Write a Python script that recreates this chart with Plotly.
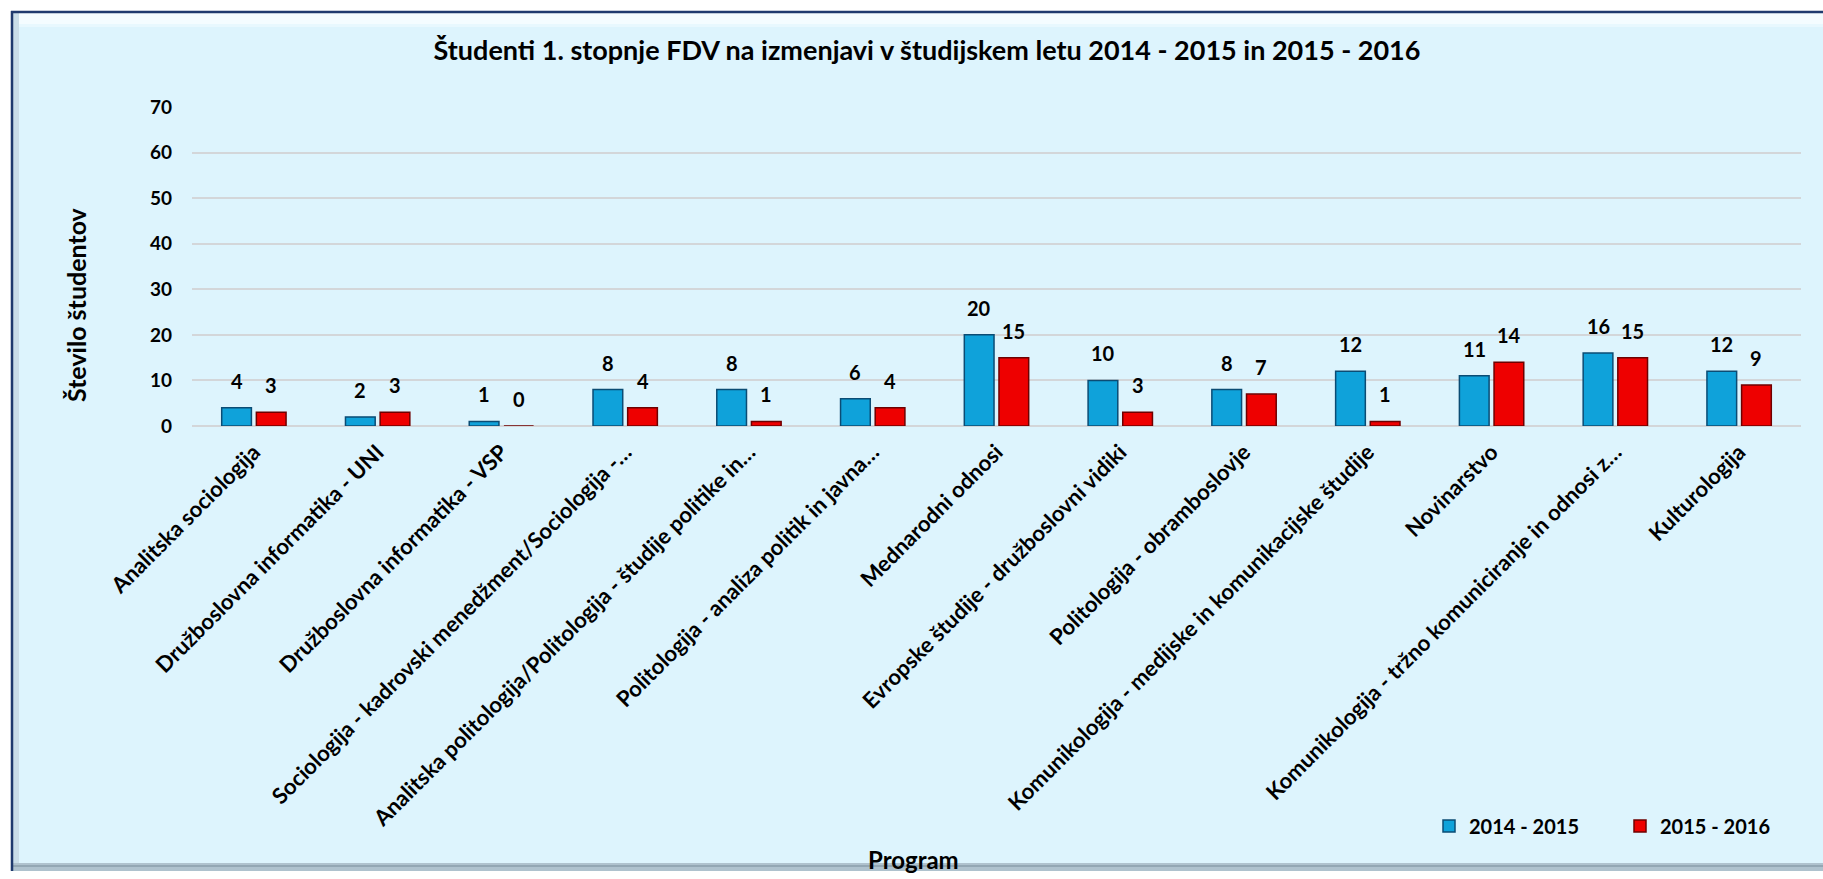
import plotly.graph_objects as go

categories = [
    "Analitska sociologija",
    "Družboslovna informatika - UNI",
    "Družboslovna informatika - VSP",
    "Sociologija - kadrovski menedžment/Sociologija -…",
    "Analitska politologija/Politologija - študije politike in…",
    "Politologija - analiza politik in javna…",
    "Mednarodni odnosi",
    "Evropske študije - družboslovni vidiki",
    "Politologija - obramboslovje",
    "Komunikologija - medijske in komunikacijske študije",
    "Novinarstvo",
    "Komunikologija - tržno komuniciranje in odnosi z…",
    "Kulturologija",
]
series_names = ["2014 - 2015", "2015 - 2016"]
values_2014_2015 = [4, 2, 1, 8, 8, 6, 20, 10, 8, 12, 11, 16, 12]
values_2015_2016 = [3, 3, 0, 4, 1, 4, 15, 3, 7, 1, 14, 15, 9]
y_ticks = [0, 10, 20, 30, 40, 50, 60, 70]

title_text = "Študenti 1. stopnje FDV na izmenjavi v študijskem letu 2014 - 2015 in 2015 - 2016"
y_title = "Število študentov"
x_title = "Program"

W, H = 1823, 879
L, R, T, B = 192, 1801, 107, 426
FONT = "Lato"

def px(x):
    return (x - L) / (R - L)

def py(y):
    return (B - y) / (B - T)

BAR_W = 0.24
offsets = [-0.26, 0.02]
fills = ["#0FA2DA", "#EE0000"]
lines = ["#0B4C74", "#6E0000"]

fig = go.Figure()
for name, vals, off, fc, lc in zip(series_names, [values_2014_2015, values_2015_2016], offsets, fills, lines):
    fig.add_trace(go.Bar(
        x=categories, y=vals, name=name,
        width=BAR_W, offset=off,
        marker=dict(color=fc, line=dict(color=lc, width=1.5)),
        hoverinfo="x+y+name",
    ))

annotations = []
for vals, off in zip([values_2014_2015, values_2015_2016], offsets):
    for i, v in enumerate(vals):
        annotations.append(dict(
            x=i + off + BAR_W / 2, y=v, xref="x", yref="y",
            text=str(v), showarrow=False, yanchor="bottom", xanchor="center",
            yshift=13,
            font=dict(family=FONT, size=20, color="#000000", weight="bold"),
        ))

annotations.append(dict(
    x=px(76), y=py(305), xref="paper", yref="paper", text=y_title,
    textangle=-90, showarrow=False, xanchor="center", yanchor="middle",
    font=dict(family=FONT, size=25, color="#000000", weight="bold"),
))
annotations.append(dict(
    x=px(913), y=py(860), xref="paper", yref="paper", text=x_title,
    showarrow=False, xanchor="center", yanchor="middle",
    font=dict(family=FONT, size=24, color="#000000", weight="bold"),
))

shapes = [
    # frame background
    dict(type="rect", xref="paper", yref="paper", x0=px(11), x1=px(1840), y0=py(871), y1=py(11),
         fillcolor="#DDF4FD", line=dict(width=0), layer="below"),
    # top highlight
    dict(type="rect", xref="paper", yref="paper", x0=px(13), x1=px(1840), y0=py(24), y1=py(13),
         fillcolor="#F4FCFF", line=dict(width=0), layer="below"),
    dict(type="rect", xref="paper", yref="paper", x0=px(13), x1=px(1840), y0=py(27), y1=py(24),
         fillcolor="#E8F8FE", line=dict(width=0), layer="below"),
    # left shade
    dict(type="rect", xref="paper", yref="paper", x0=px(13), x1=px(19), y0=py(871), y1=py(13),
         fillcolor="#C9DDE8", line=dict(width=0), layer="below"),
    # bottom shade
    dict(type="rect", xref="paper", yref="paper", x0=px(13), x1=px(1840), y0=py(871), y1=py(863),
         fillcolor="#AFC2CE", line=dict(width=0), layer="below"),
    dict(type="rect", xref="paper", yref="paper", x0=px(13), x1=px(1840), y0=py(867), y1=py(865),
         fillcolor="#93A7B4", line=dict(width=0), layer="below"),
    # navy border left and top
    dict(type="line", xref="paper", yref="paper", x0=px(12), x1=px(12), y0=py(871), y1=py(11),
         line=dict(color="#1F3A6E", width=2.5), layer="below"),
    dict(type="line", xref="paper", yref="paper", x0=px(11), x1=px(1840), y0=py(12), y1=py(12),
         line=dict(color="#1F3A6E", width=2.5), layer="below"),
]

fig.update_layout(
    width=W, height=H,
    margin=dict(l=L, r=W - R, t=T, b=H - B, autoexpand=False),
    paper_bgcolor="#FFFFFF",
    plot_bgcolor="rgba(0,0,0,0)",
    barmode="overlay",
    title=dict(text=title_text, x=927 / W, y=1 - 51 / H, xanchor="center", yanchor="middle",
               xref="container", yref="container",
               font=dict(family=FONT, size=27, color="#000000", weight="bold")),
    xaxis=dict(
        type="category", range=[-0.5, len(categories) - 0.5],
        tickangle=-45, ticks="", showgrid=False, showline=False, zeroline=False,
        tickfont=dict(family=FONT, size=22, color="#000000", weight="bold"),
        ticklabelstandoff=8,
    ),
    yaxis=dict(
        range=[0, 70], tickvals=y_ticks, showgrid=True, gridcolor="#D3D6D9", gridwidth=2,
        zeroline=True, zerolinecolor="#D3D6D9", zerolinewidth=2, showline=False, ticks="",
        tickfont=dict(family=FONT, size=19, color="#000000", weight="bold"),
        ticklabelstandoff=19,
    ),
    legend=dict(
        orientation="h", x=px(1429), y=py(826), xanchor="left", yanchor="middle",
        bgcolor="rgba(0,0,0,0)", entrywidth=146, entrywidthmode="pixels",
        font=dict(family=FONT, size=20, color="#000000", weight="bold"),
        traceorder="normal",
    ),
    showlegend=True,
    annotations=annotations,
    shapes=shapes,
)

fig.write_html(
    "out.html",
    config={"displayModeBar": False},
    post_script="document.body.style.margin='0';document.body.style.overflow='hidden';",
)
